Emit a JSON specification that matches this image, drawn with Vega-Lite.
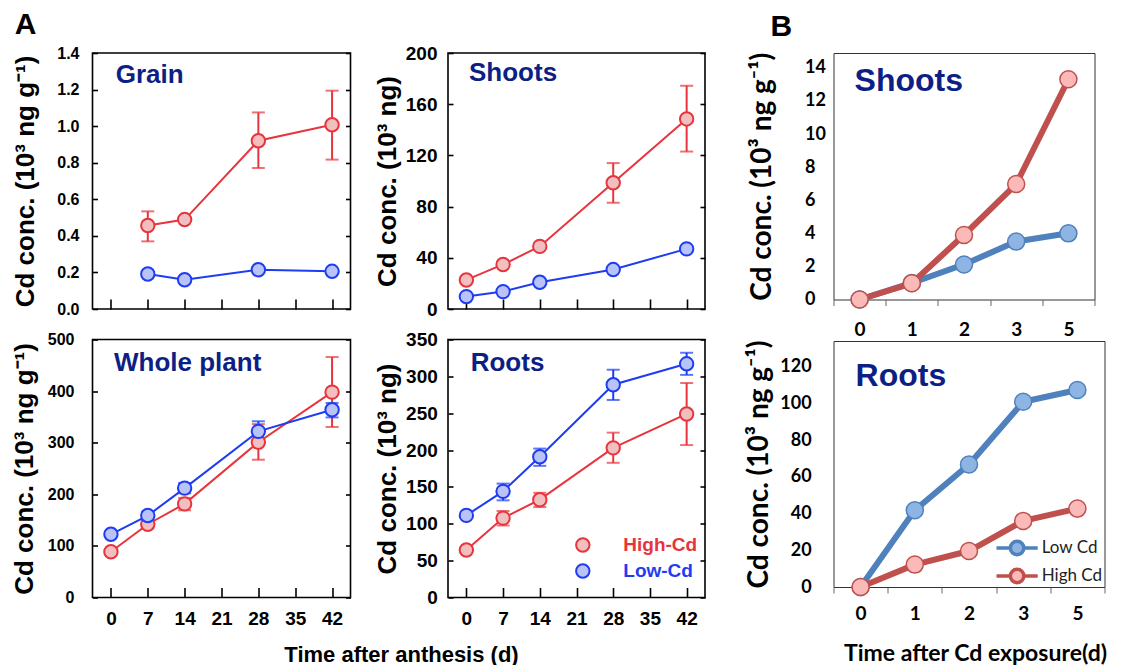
{
  "$schema": "https://vega.github.io/schema/vega-lite/v6.json",
  "background": "white",
  "padding": {"left": 10.5, "top": 8, "right": 0, "bottom": 0},
  "config": {
    "font": "Liberation Sans",
    "axis": {"grid": false, "labelColor": "#000", "titleColor": "#000", "tickColor": "#000", "labelOverlap": false, "labelFlush": false, "tickCount": 20},
    "title": {"color": "#000"},
    "legend": {"padding": 0, "titlePadding": 0}
  },
  "datasets": {
    "grain": [
      {"day": 7, "series": "High-Cd", "value": 0.457, "lo": 0.37, "hi": 0.534},
      {"day": 14, "series": "High-Cd", "value": 0.489},
      {"day": 28, "series": "High-Cd", "value": 0.92, "lo": 0.771, "hi": 1.075},
      {"day": 42, "series": "High-Cd", "value": 1.008, "lo": 0.817, "hi": 1.194},
      {"day": 7, "series": "Low-Cd", "value": 0.191},
      {"day": 14, "series": "Low-Cd", "value": 0.16},
      {"day": 28, "series": "Low-Cd", "value": 0.215},
      {"day": 42, "series": "Low-Cd", "value": 0.206}
    ],
    "shootsA": [
      {"day": 0, "series": "High-Cd", "value": 22.7},
      {"day": 7, "series": "High-Cd", "value": 34.8},
      {"day": 14, "series": "High-Cd", "value": 48.9},
      {"day": 28, "series": "High-Cd", "value": 98.6, "lo": 83, "hi": 114},
      {"day": 42, "series": "High-Cd", "value": 148.5, "lo": 123, "hi": 174.4},
      {"day": 0, "series": "Low-Cd", "value": 9.7},
      {"day": 7, "series": "Low-Cd", "value": 13.6},
      {"day": 14, "series": "Low-Cd", "value": 20.9},
      {"day": 28, "series": "Low-Cd", "value": 30.8},
      {"day": 42, "series": "Low-Cd", "value": 47}
    ],
    "whole": [
      {"day": 0, "series": "High-Cd", "value": 88.8},
      {"day": 7, "series": "High-Cd", "value": 142, "lo": 134, "hi": 150},
      {"day": 14, "series": "High-Cd", "value": 181.5, "lo": 169, "hi": 193},
      {"day": 28, "series": "High-Cd", "value": 301, "lo": 267, "hi": 336},
      {"day": 42, "series": "High-Cd", "value": 398, "lo": 330.5, "hi": 466},
      {"day": 0, "series": "Low-Cd", "value": 122.5},
      {"day": 7, "series": "Low-Cd", "value": 158.8, "lo": 152, "hi": 166},
      {"day": 14, "series": "Low-Cd", "value": 212, "lo": 202, "hi": 222},
      {"day": 28, "series": "Low-Cd", "value": 322, "lo": 302.7, "hi": 341.5},
      {"day": 42, "series": "Low-Cd", "value": 364, "lo": 349, "hi": 377}
    ],
    "rootsA": [
      {"day": 0, "series": "High-Cd", "value": 64.5},
      {"day": 7, "series": "High-Cd", "value": 107.7, "lo": 97.7, "hi": 117.3},
      {"day": 14, "series": "High-Cd", "value": 132.7, "lo": 122.7, "hi": 142},
      {"day": 28, "series": "High-Cd", "value": 203, "lo": 182.7, "hi": 223.6},
      {"day": 42, "series": "High-Cd", "value": 249, "lo": 206.8, "hi": 291},
      {"day": 0, "series": "Low-Cd", "value": 111.4},
      {"day": 7, "series": "Low-Cd", "value": 144, "lo": 131.8, "hi": 154.5},
      {"day": 14, "series": "Low-Cd", "value": 191, "lo": 178.6, "hi": 202},
      {"day": 28, "series": "Low-Cd", "value": 288.6, "lo": 268, "hi": 309},
      {"day": 42, "series": "Low-Cd", "value": 317, "lo": 302, "hi": 332}
    ],
    "shootsB": [
      {"day": "0", "series": "Low Cd", "value": 0},
      {"day": "1", "series": "Low Cd", "value": 1.0},
      {"day": "2", "series": "Low Cd", "value": 2.12},
      {"day": "3", "series": "Low Cd", "value": 3.5},
      {"day": "5", "series": "Low Cd", "value": 4.0},
      {"day": "0", "series": "High Cd", "value": 0},
      {"day": "1", "series": "High Cd", "value": 0.98},
      {"day": "2", "series": "High Cd", "value": 3.9},
      {"day": "3", "series": "High Cd", "value": 6.98},
      {"day": "5", "series": "High Cd", "value": 13.31}
    ],
    "rootsB": [
      {"day": "0", "series": "Low Cd", "value": 0},
      {"day": "1", "series": "Low Cd", "value": 41.8},
      {"day": "2", "series": "Low Cd", "value": 66.7},
      {"day": "3", "series": "Low Cd", "value": 100.9},
      {"day": "5", "series": "Low Cd", "value": 107.3},
      {"day": "0", "series": "High Cd", "value": 0},
      {"day": "1", "series": "High Cd", "value": 12.2},
      {"day": "2", "series": "High Cd", "value": 19.6},
      {"day": "3", "series": "High Cd", "value": 36},
      {"day": "5", "series": "High Cd", "value": 42.7}
    ]
  },
  "resolve": {"scale": {"color": "independent", "fill": "independent", "stroke": "independent"}},
  "spacing": 37,
  "hconcat": [
    {
      "columns": 2,
      "bounds": "flush",
      "align": "each",
      "spacing": {"row": 30.5, "column": 97.5},
      "resolve": {"scale": {"color": "independent", "fill": "independent", "stroke": "independent"}},
      "concat": [
        {
          "width": 258, "height": 256,
          "view": {"stroke": "#000", "strokeWidth": 1.6},
          "title": {"text": "A", "anchor": "start", "frame": "bounds", "fontSize": 30, "fontWeight": "bold", "baseline": "alphabetic", "offset": -18.5, "dx": 2},
          "data": {"name": "grain"},
          "resolve": {"axis": {"y": "independent"}},
          "layer": [
            {"layer": [
              {"mark": {"type": "line", "strokeWidth": 2},
               "encoding": {
                 "x": {"field": "day", "type": "quantitative", "scale": {"domain": [-3.5, 45.5], "nice": false, "zero": false},
                       "axis": {"values": [0, 7, 14, 21, 28, 35, 42], "tickSize": -10, "tickWidth": 1.6, "domain": false, "labels": false, "title": null}},
                 "y": {"field": "value", "type": "quantitative", "scale": {"domain": [0, 1.4], "nice": false, "zero": false},
                       "axis": {"values": [0, 0.2, 0.4, 0.6, 0.8, 1, 1.2, 1.4], "format": ".1f", "tickSize": -5, "tickWidth": 1.6, "domain": false, "labelFontSize": 16, "labelFontWeight": "bold", "labelPadding": 18.5, "title": "Cd conc. (10³ ng g⁻¹)", "titleFontSize": 26, "titleFontWeight": "bold", "titlePadding": 18}},
                 "color": {"field": "series", "type": "nominal", "scale": {"domain": ["Low-Cd", "High-Cd"], "range": ["#1E3CF2", "#E8343C"]}, "legend": null}
               }},
              {"mark": {"type": "rule", "strokeWidth": 2},
               "encoding": {
                 "x": {"field": "day", "type": "quantitative"},
                 "y": {"field": "lo", "type": "quantitative"},
                 "y2": {"field": "hi"},
                 "color": {"field": "series", "type": "nominal", "legend": null}
               }},
              {"mark": {"type": "tick", "orient": "horizontal", "size": 13, "thickness": 2},
               "encoding": {
                 "x": {"field": "day", "type": "quantitative"},
                 "y": {"field": "lo", "type": "quantitative"},
                 "color": {"field": "series", "type": "nominal", "legend": null}
               }},
              {"mark": {"type": "tick", "orient": "horizontal", "size": 13, "thickness": 2},
               "encoding": {
                 "x": {"field": "day", "type": "quantitative"},
                 "y": {"field": "hi", "type": "quantitative"},
                 "color": {"field": "series", "type": "nominal", "legend": null}
               }},
              {"data": {"values": [{}]},
               "mark": {"type": "text", "text": "Grain", "align": "left", "baseline": "middle", "fontSize": 26, "fontWeight": "bold", "color": "#0D1F85"},
               "encoding": {
                 "x": {"datum": 0.91, "type": "quantitative"},
                 "y": {"datum": 1.281, "type": "quantitative"}
               }}
            ]},
            {"mark": {"type": "point", "shape": "circle", "filled": true, "size": 180, "strokeWidth": 2, "opacity": 1},
             "encoding": {
               "x": {"field": "day", "type": "quantitative"},
               "y": {"field": "value", "type": "quantitative",
                     "axis": {"orient": "right", "values": [0, 0.2, 0.4, 0.6, 0.8, 1, 1.2, 1.4], "tickSize": -5, "tickWidth": 1.6, "labels": false, "domain": false, "title": null}},
               "fill": {"field": "series", "type": "nominal", "scale": {"domain": ["High-Cd", "Low-Cd"], "range": ["#F2BFC1", "#BAC3F7"]}, "legend": null},
               "stroke": {"field": "series", "type": "nominal", "scale": {"domain": ["High-Cd", "Low-Cd"], "range": ["#E8343C", "#1E3CF2"]}, "legend": null}
             }}
          ]
        },
        {
          "width": 257, "height": 256,
          "view": {"stroke": "#000", "strokeWidth": 1.6},
          "data": {"name": "shootsA"},
          "resolve": {"axis": {"y": "independent"}},
          "layer": [
            {"layer": [
              {"mark": {"type": "line", "strokeWidth": 2},
               "encoding": {
                 "x": {"field": "day", "type": "quantitative", "scale": {"domain": [-3.5, 45.5], "nice": false, "zero": false},
                       "axis": {"values": [0, 7, 14, 21, 28, 35, 42], "tickSize": -10, "tickWidth": 1.6, "domain": false, "labels": false, "title": null}},
                 "y": {"field": "value", "type": "quantitative", "scale": {"domain": [0, 200], "nice": false, "zero": false},
                       "axis": {"values": [0, 40, 80, 120, 160, 200], "tickSize": -5, "tickWidth": 1.6, "domain": false, "labelFontSize": 19, "labelFontWeight": "bold", "labelPadding": 16, "title": "Cd conc. (10³ ng)", "titleFontSize": 26, "titleFontWeight": "bold", "titlePadding": 5}},
                 "color": {"field": "series", "type": "nominal", "scale": {"domain": ["Low-Cd", "High-Cd"], "range": ["#1E3CF2", "#E8343C"]}, "legend": null}
               }},
              {"mark": {"type": "rule", "strokeWidth": 2},
               "encoding": {
                 "x": {"field": "day", "type": "quantitative"},
                 "y": {"field": "lo", "type": "quantitative"},
                 "y2": {"field": "hi"},
                 "color": {"field": "series", "type": "nominal", "legend": null}
               }},
              {"mark": {"type": "tick", "orient": "horizontal", "size": 13, "thickness": 2},
               "encoding": {
                 "x": {"field": "day", "type": "quantitative"},
                 "y": {"field": "lo", "type": "quantitative"},
                 "color": {"field": "series", "type": "nominal", "legend": null}
               }},
              {"mark": {"type": "tick", "orient": "horizontal", "size": 13, "thickness": 2},
               "encoding": {
                 "x": {"field": "day", "type": "quantitative"},
                 "y": {"field": "hi", "type": "quantitative"},
                 "color": {"field": "series", "type": "nominal", "legend": null}
               }},
              {"data": {"values": [{}]},
               "mark": {"type": "text", "text": "Shoots", "align": "left", "baseline": "middle", "fontSize": 26, "fontWeight": "bold", "color": "#0D1F85"},
               "encoding": {
                 "x": {"datum": 0.5, "type": "quantitative"},
                 "y": {"datum": 184.2, "type": "quantitative"}
               }}
            ]},
            {"mark": {"type": "point", "shape": "circle", "filled": true, "size": 180, "strokeWidth": 2, "opacity": 1},
             "encoding": {
               "x": {"field": "day", "type": "quantitative"},
               "y": {"field": "value", "type": "quantitative",
                     "axis": {"orient": "right", "values": [0, 40, 80, 120, 160, 200], "tickSize": -5, "tickWidth": 1.6, "labels": false, "domain": false, "title": null}},
               "fill": {"field": "series", "type": "nominal", "scale": {"domain": ["High-Cd", "Low-Cd"], "range": ["#F2BFC1", "#BAC3F7"]}, "legend": null},
               "stroke": {"field": "series", "type": "nominal", "scale": {"domain": ["High-Cd", "Low-Cd"], "range": ["#E8343C", "#1E3CF2"]}, "legend": null}
             }}
          ]
        },
        {
          "width": 258, "height": 258,
          "view": {"stroke": "#000", "strokeWidth": 1.6},
          "data": {"name": "whole"},
          "resolve": {"axis": {"y": "independent"}},
          "layer": [
            {"layer": [
              {"mark": {"type": "line", "strokeWidth": 2},
               "encoding": {
                 "x": {"field": "day", "type": "quantitative", "scale": {"domain": [-3.5, 45.5], "nice": false, "zero": false},
                       "axis": {"values": [0, 7, 14, 21, 28, 35, 42], "tickSize": -10, "tickWidth": 1.6, "domain": false, "labelFontSize": 19, "labelFontWeight": "bold", "labelPadding": 21.5, "title": "Time after anthesis (d)", "titleFontSize": 22, "titleFontWeight": "bold", "titleX": 308.5, "titleY": 57, "titleBaseline": "middle", "titleAlign": "center"}},
                 "y": {"field": "value", "type": "quantitative", "scale": {"domain": [0, 500], "nice": false, "zero": false},
                       "axis": {"values": [0, 100, 200, 300, 400, 500], "tickSize": -5, "tickWidth": 1.6, "domain": false, "labelFontSize": 16, "labelFontWeight": "bold", "labelPadding": 23.5, "title": "Cd conc. (10³ ng g⁻¹)", "titleFontSize": 26, "titleFontWeight": "bold", "titlePadding": 9.5}},
                 "color": {"field": "series", "type": "nominal", "scale": {"domain": ["Low-Cd", "High-Cd"], "range": ["#1E3CF2", "#E8343C"]}, "legend": null}
               }},
              {"mark": {"type": "rule", "strokeWidth": 2},
               "encoding": {
                 "x": {"field": "day", "type": "quantitative"},
                 "y": {"field": "lo", "type": "quantitative"},
                 "y2": {"field": "hi"},
                 "color": {"field": "series", "type": "nominal", "legend": null}
               }},
              {"mark": {"type": "tick", "orient": "horizontal", "size": 13, "thickness": 2},
               "encoding": {
                 "x": {"field": "day", "type": "quantitative"},
                 "y": {"field": "lo", "type": "quantitative"},
                 "color": {"field": "series", "type": "nominal", "legend": null}
               }},
              {"mark": {"type": "tick", "orient": "horizontal", "size": 13, "thickness": 2},
               "encoding": {
                 "x": {"field": "day", "type": "quantitative"},
                 "y": {"field": "hi", "type": "quantitative"},
                 "color": {"field": "series", "type": "nominal", "legend": null}
               }},
              {"data": {"values": [{}]},
               "mark": {"type": "text", "text": "Whole plant", "align": "left", "baseline": "middle", "fontSize": 26, "fontWeight": "bold", "color": "#0D1F85"},
               "encoding": {
                 "x": {"datum": 0.58, "type": "quantitative"},
                 "y": {"datum": 454, "type": "quantitative"}
               }}
            ]},
            {"mark": {"type": "point", "shape": "circle", "filled": true, "size": 180, "strokeWidth": 2, "opacity": 1},
             "encoding": {
               "x": {"field": "day", "type": "quantitative"},
               "y": {"field": "value", "type": "quantitative",
                     "axis": {"orient": "right", "values": [0, 100, 200, 300, 400, 500], "tickSize": -5, "tickWidth": 1.6, "labels": false, "domain": false, "title": null}},
               "fill": {"field": "series", "type": "nominal", "scale": {"domain": ["High-Cd", "Low-Cd"], "range": ["#F2BFC1", "#BAC3F7"]}, "legend": null},
               "stroke": {"field": "series", "type": "nominal", "scale": {"domain": ["High-Cd", "Low-Cd"], "range": ["#E8343C", "#1E3CF2"]}, "legend": null}
             }}
          ]
        },
        {
          "width": 257, "height": 258,
          "view": {"stroke": "#000", "strokeWidth": 1.6},
          "data": {"name": "rootsA"},
          "resolve": {"axis": {"y": "independent"}},
          "layer": [
            {"layer": [
              {"mark": {"type": "line", "strokeWidth": 2},
               "encoding": {
                 "x": {"field": "day", "type": "quantitative", "scale": {"domain": [-3.5, 45.5], "nice": false, "zero": false},
                       "axis": {"values": [0, 7, 14, 21, 28, 35, 42], "tickSize": -10, "tickWidth": 1.6, "domain": false, "labelFontSize": 19, "labelFontWeight": "bold", "labelPadding": 21.5, "title": null}},
                 "y": {"field": "value", "type": "quantitative", "scale": {"domain": [0, 350], "nice": false, "zero": false},
                       "axis": {"values": [0, 50, 100, 150, 200, 250, 300, 350], "tickSize": -5, "tickWidth": 1.6, "domain": false, "labelFontSize": 19, "labelFontWeight": "bold", "labelPadding": 15.7, "title": "Cd conc. (10³ ng)", "titleFontSize": 26, "titleFontWeight": "bold", "titlePadding": 5}},
                 "color": {"field": "series", "type": "nominal", "scale": {"domain": ["Low-Cd", "High-Cd"], "range": ["#1E3CF2", "#E8343C"]}, "legend": null}
               }},
              {"mark": {"type": "rule", "strokeWidth": 2},
               "encoding": {
                 "x": {"field": "day", "type": "quantitative"},
                 "y": {"field": "lo", "type": "quantitative"},
                 "y2": {"field": "hi"},
                 "color": {"field": "series", "type": "nominal", "legend": null}
               }},
              {"mark": {"type": "tick", "orient": "horizontal", "size": 13, "thickness": 2},
               "encoding": {
                 "x": {"field": "day", "type": "quantitative"},
                 "y": {"field": "lo", "type": "quantitative"},
                 "color": {"field": "series", "type": "nominal", "legend": null}
               }},
              {"mark": {"type": "tick", "orient": "horizontal", "size": 13, "thickness": 2},
               "encoding": {
                 "x": {"field": "day", "type": "quantitative"},
                 "y": {"field": "hi", "type": "quantitative"},
                 "color": {"field": "series", "type": "nominal", "legend": null}
               }},
              {"data": {"values": [{}]},
               "mark": {"type": "text", "text": "Roots", "align": "left", "baseline": "middle", "fontSize": 26, "fontWeight": "bold", "color": "#0D1F85"},
               "encoding": {
                 "x": {"datum": 0.83, "type": "quantitative"},
                 "y": {"datum": 317.8, "type": "quantitative"}
               }}
            ]},
            {"mark": {"type": "point", "shape": "circle", "filled": true, "size": 180, "strokeWidth": 2, "opacity": 1},
             "encoding": {
               "x": {"field": "day", "type": "quantitative"},
               "y": {"field": "value", "type": "quantitative",
                     "axis": {"orient": "right", "values": [0, 50, 100, 150, 200, 250, 300, 350], "tickSize": -5, "tickWidth": 1.6, "labels": false, "domain": false, "title": null}},
               "fill": {"field": "series", "type": "nominal", "scale": {"domain": ["High-Cd", "Low-Cd"], "range": ["#F2BFC1", "#BAC3F7"]},
                        "legend": {"title": null, "orient": "none", "legendX": 125.3, "legendY": 196, "symbolType": "circle", "symbolSize": 180, "symbolStrokeWidth": 2, "labelFontSize": 19, "labelFontWeight": "bold", "labelColor": {"expr": "datum.value == 'High-Cd' ? '#E8343C' : '#1E3CF2'"}, "labelOffset": 31, "rowPadding": 3, "padding": 0}},
               "stroke": {"field": "series", "type": "nominal", "scale": {"domain": ["High-Cd", "Low-Cd"], "range": ["#E8343C", "#1E3CF2"]},
                        "legend": {"title": null, "orient": "none", "legendX": 125.3, "legendY": 196, "symbolType": "circle", "symbolSize": 180, "symbolStrokeWidth": 2, "labelFontSize": 19, "labelFontWeight": "bold", "labelColor": {"expr": "datum.value == 'High-Cd' ? '#E8343C' : '#1E3CF2'"}, "labelOffset": 31, "rowPadding": 3, "padding": 0}}
             }}
          ]
        }
      ]
    },
    {
      "bounds": "flush",
      "spacing": 41,
      "resolve": {"scale": {"color": "independent", "fill": "independent", "stroke": "independent"}},
      "vconcat": [
        {
          "width": 261, "height": 246.5,
          "view": {"stroke": "#333", "strokeWidth": 1},
          "title": {"text": "B", "anchor": "start", "frame": "bounds", "fontSize": 30, "fontWeight": "bold", "baseline": "alphabetic", "offset": -13.5, "dx": 22},
          "data": {"name": "shootsB"},
          "layer": [
            {"mark": {"type": "line", "strokeWidth": 6, "strokeJoin": "round", "strokeCap": "round"},
             "encoding": {
               "x": {"field": "day", "type": "ordinal", "scale": {"type": "band", "domain": ["0", "1", "2", "3", "5"], "paddingInner": 0, "paddingOuter": 0},
                     "axis": {"tickBand": "extent", "tickSize": 6, "tickColor": "#666", "tickWidth": 1, "domain": false, "labelAngle": 0, "labelFont": "Lato", "labelFontSize": 19, "labelFontWeight": "bold", "labelPadding": 14.5, "title": null}},
               "y": {"field": "value", "type": "quantitative", "scale": {"domain": [0, 14.9], "nice": false, "zero": false},
                     "axis": {"values": [0, 2, 4, 6, 8, 10, 12, 14], "ticks": false, "domain": false, "labelAlign": "left", "labelPadding": 29, "labelFont": "Lato", "labelFontSize": 18, "labelFontWeight": "bold", "title": "Cd conc. (10³ ng g⁻¹)", "titleFont": "Lato", "titleFontSize": 28, "titleFontWeight": "bold", "titlePadding": 28}},
               "stroke": {"field": "series", "type": "nominal", "scale": {"domain": ["Low Cd", "High Cd"], "range": ["#4F81BD", "#C0504D"]}, "legend": null}
             }},
            {"mark": {"type": "point", "shape": "circle", "filled": true, "size": 290, "strokeWidth": 1.5, "opacity": 1},
             "encoding": {
               "x": {"field": "day", "type": "ordinal"},
               "y": {"field": "value", "type": "quantitative"},
               "fill": {"field": "series", "type": "nominal", "scale": {"domain": ["Low Cd", "High Cd"], "range": ["#8DB4E2", "#FBBAB8"]}, "legend": null},
               "stroke": {"field": "series", "type": "nominal", "legend": null}
             }},
            {"data": {"values": [{}]},
             "mark": {"type": "text", "text": "Shoots", "align": "left", "baseline": "middle", "fontSize": 32, "fontWeight": "bold", "color": "#0D1F85", "dx": -5},
             "encoding": {
               "x": {"datum": "0", "type": "ordinal"},
               "y": {"datum": 13.18, "type": "quantitative"}
             }}
          ]
        },
        {
          "width": 271, "height": 246,
          "view": {"stroke": "#333", "strokeWidth": 1},
          "data": {"name": "rootsB"},
          "layer": [
            {"mark": {"type": "line", "strokeWidth": 6, "strokeJoin": "round", "strokeCap": "round"},
             "encoding": {
               "x": {"field": "day", "type": "ordinal", "scale": {"type": "band", "domain": ["0", "1", "2", "3", "5"], "paddingInner": 0, "paddingOuter": 0},
                     "axis": {"tickBand": "extent", "tickSize": 6, "tickColor": "#666", "tickWidth": 1, "domain": false, "labelAngle": 0, "labelFont": "Lato", "labelFontSize": 19, "labelFontWeight": "bold", "labelPadding": 11.5, "title": "Time after Cd exposure(d)", "titleFont": "Lato", "titleFontSize": 23, "titleFontWeight": "bold", "titleX": 141.5, "titleY": 66, "titleBaseline": "middle", "titleAlign": "center"}},
               "y": {"field": "value", "type": "quantitative", "scale": {"domain": [0, 134], "nice": false, "zero": false},
                     "axis": {"values": [0, 20, 40, 60, 80, 100, 120], "ticks": false, "domain": false, "labelPadding": 22.4, "labelFont": "Lato", "labelFontSize": 18, "labelFontWeight": "bold", "title": "Cd conc. (10³ ng g⁻¹)", "titleFont": "Lato", "titleFontSize": 28, "titleFontWeight": "bold", "titlePadding": 6}},
               "stroke": {"field": "series", "type": "nominal", "scale": {"domain": ["Low Cd", "High Cd"], "range": ["#4F81BD", "#C0504D"]}}
             }},
            {"mark": {"type": "point", "shape": "circle", "filled": true, "size": 290, "strokeWidth": 1.5, "opacity": 1},
             "encoding": {
               "x": {"field": "day", "type": "ordinal"},
               "y": {"field": "value", "type": "quantitative"},
               "fill": {"field": "series", "type": "nominal", "scale": {"domain": ["Low Cd", "High Cd"], "range": ["#8DB4E2", "#FBBAB8"]},
                        "legend": {"title": null, "orient": "none", "legendX": 171.6, "legendY": 195, "symbolType": "M-2.06,0L-0.675,0M0.675,0L2.06,0M0.675,0A0.675,0.675,0,1,1,-0.675,0A0.675,0.675,0,1,1,0.675,0Z", "symbolSize": 400, "symbolStrokeWidth": 3.5, "labelFont": "Lato", "labelFontSize": 17, "labelColor": "#222", "labelOffset": 12.6, "rowPadding": 0, "padding": 0}},
               "stroke": {"field": "series", "type": "nominal",
                        "legend": {"title": null, "orient": "none", "legendX": 171.6, "legendY": 195, "symbolType": "M-2.06,0L-0.675,0M0.675,0L2.06,0M0.675,0A0.675,0.675,0,1,1,-0.675,0A0.675,0.675,0,1,1,0.675,0Z", "symbolSize": 400, "symbolStrokeWidth": 3.5, "labelFont": "Lato", "labelFontSize": 17, "labelColor": "#222", "labelOffset": 12.6, "rowPadding": 0, "padding": 0}}
             }},
            {"data": {"values": [{}]},
             "mark": {"type": "text", "text": "Roots", "align": "left", "baseline": "middle", "fontSize": 32, "fontWeight": "bold", "color": "#0D1F85", "dx": -5},
             "encoding": {
               "x": {"datum": "0", "type": "ordinal"},
               "y": {"datum": 115, "type": "quantitative"}
             }}
          ]
        }
      ]
    }
  ]
}
